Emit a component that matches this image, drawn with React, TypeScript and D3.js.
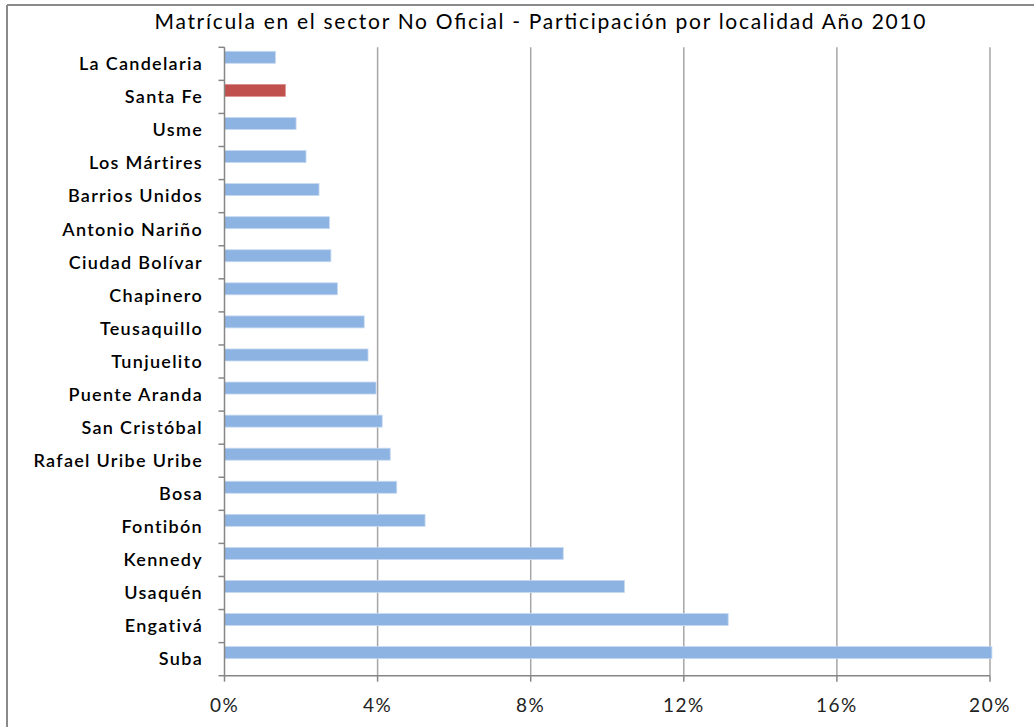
import React from "react";
import * as d3 from "d3";

const categories = [
  "La Candelaria", "Santa Fe", "Usme", "Los Mártires", "Barrios Unidos",
  "Antonio Nariño", "Ciudad Bolívar", "Chapinero", "Teusaquillo", "Tunjuelito",
  "Puente Aranda", "San Cristóbal", "Rafael Uribe Uribe", "Bosa", "Fontibón",
  "Kennedy", "Usaquén", "Engativá", "Suba",
];
const values = [
  1.33, 1.59, 1.87, 2.13, 2.47,
  2.74, 2.78, 2.95, 3.65, 3.75,
  3.96, 4.12, 4.33, 4.50, 5.24,
  8.85, 10.45, 13.16, 20.05,
];
const highlighted = ["Santa Fe"];
const xTicks = [0, 4, 8, 12, 16, 20];
const title = "Matrícula en el sector No Oficial - Participación por localidad Año 2010";

const W = 1034;
const H = 727;
const left = 224.5;
const right = 990;
const top = 47.3;
const bottom = 675.7;

export default function App() {
  const x = d3.scaleLinear().domain([0, 20]).range([left, right]);
  const y = d3.scaleBand<string>().domain(categories).range([top, bottom]).paddingInner(0).paddingOuter(0);
  const bw = y.bandwidth();
  const font = "Lato, 'Open Sans', sans-serif";
  return (
    <svg width={W} height={H} style={{ position: "absolute", left: 0, top: 0, background: "#fff" }}>
      <rect x={0} y={0} width={W} height={H} fill="#fff" />
      {/* outer frame */}
      <line x1={7} x2={W} y1={5} y2={5} stroke="#8a8a8a" strokeWidth={2} />
      <line x1={7} x2={7} y1={5} y2={H} stroke="#8a8a8a" strokeWidth={2} />
      {/* title */}
      <text x={540} y={29} textAnchor="middle" fontFamily={font} fontSize={21} fill="#000"
        textLength={771} lengthAdjust="spacing">{title}</text>
      {/* gridlines */}
      {xTicks.filter((t) => t > 0).map((t) => (
        <line key={"g" + t} x1={x(t)} x2={x(t)} y1={top} y2={bottom} stroke="#a6a6a6" strokeWidth={1.5} />
      ))}
      {/* bars */}
      {categories.map((c, i) => (
        <rect key={c} x={x(0)} y={(y(c) as number) + 4} width={x(values[i]) - x(0)} height={12}
          fill={highlighted.includes(c) ? "#C0504D" : "#8DB3E2"}
          stroke={highlighted.includes(c) ? "#d98f8d" : "#c6d9f1"} strokeWidth={0.8} />
      ))}
      {/* axes */}
      <line x1={left} x2={left} y1={top} y2={bottom} stroke="#868686" strokeWidth={1.5} />
      <line x1={left} x2={right} y1={bottom} y2={bottom} stroke="#868686" strokeWidth={1.5} />
      {categories.map((c) => (
        <line key={"t" + c} x1={left - 6} x2={left} y1={y(c) as number} y2={y(c) as number} stroke="#868686" strokeWidth={1.5} />
      ))}
      <line x1={left - 6} x2={left} y1={bottom} y2={bottom} stroke="#868686" strokeWidth={1.5} />
      {xTicks.map((t) => (
        <line key={"xt" + t} x1={x(t)} x2={x(t)} y1={bottom} y2={bottom + 6} stroke="#868686" strokeWidth={1.5} />
      ))}
      {/* category labels */}
      {categories.map((c) => (
        <text key={"l" + c} x={203} y={(y(c) as number) + bw / 2} dy="0.35em" textAnchor="end"
          fontFamily={font} fontSize={18} fontWeight={600} letterSpacing={1.3} fill="#000">{c}</text>
      ))}
      {/* x tick labels */}
      {xTicks.map((t) => (
        <text key={"xl" + t} x={x(t)} y={705} dy="0.35em" textAnchor="middle"
          fontFamily={font} fontSize={19} fill="#222" letterSpacing={1.5}>{t + "%"}</text>
      ))}
    </svg>
  );
}
